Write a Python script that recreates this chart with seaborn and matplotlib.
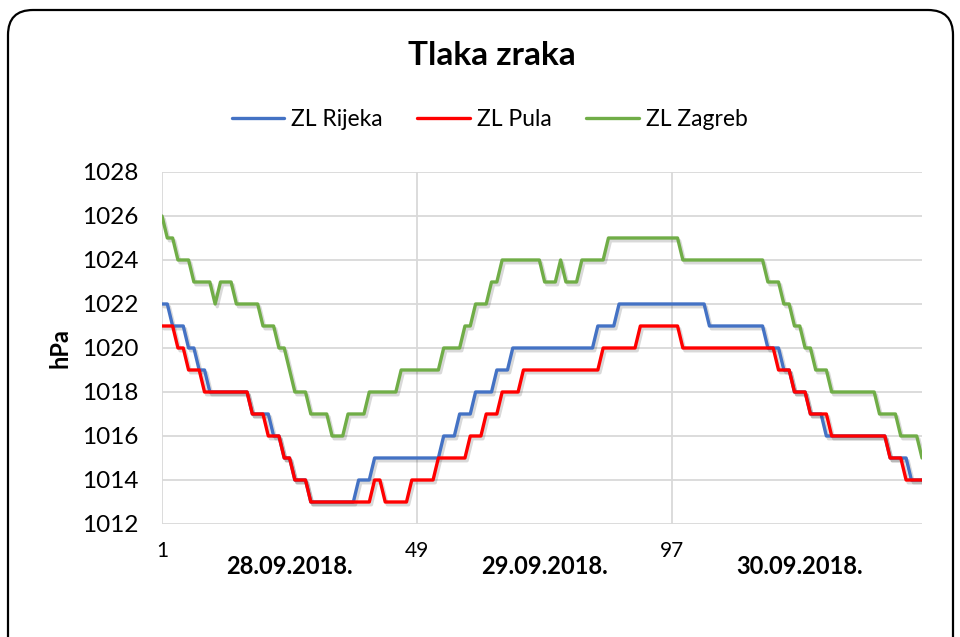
import matplotlib
matplotlib.use("Agg")
import matplotlib.pyplot as plt
import matplotlib.patheffects as pe
from matplotlib.patches import FancyBboxPatch
import pandas as pd
import seaborn as sns

# half-hourly readings, 48 per day, 28.-30.09.2018.
rijeka = [
    1022, 1022, 1021, 1021, 1021, 1020, 1020, 1019, 1019, 1018,
    1018, 1018, 1018, 1018, 1018, 1018, 1018, 1017, 1017, 1017,
    1017, 1016, 1016, 1015, 1015, 1014, 1014, 1014, 1013, 1013,
    1013, 1013, 1013, 1013, 1013, 1013, 1013, 1014, 1014, 1014,
    1015, 1015, 1015, 1015, 1015, 1015, 1015, 1015,
    1015, 1015, 1015, 1015, 1015, 1016, 1016, 1016, 1017, 1017,
    1017, 1018, 1018, 1018, 1018, 1019, 1019, 1019, 1020, 1020,
    1020, 1020, 1020, 1020, 1020, 1020, 1020, 1020, 1020, 1020,
    1020, 1020, 1020, 1020, 1021, 1021, 1021, 1021, 1022, 1022,
    1022, 1022, 1022, 1022, 1022, 1022, 1022, 1022,
    1022, 1022, 1022, 1022, 1022, 1022, 1022, 1021, 1021, 1021,
    1021, 1021, 1021, 1021, 1021, 1021, 1021, 1021, 1020, 1020,
    1020, 1019, 1019, 1018, 1018, 1018, 1017, 1017, 1017, 1016,
    1016, 1016, 1016, 1016, 1016, 1016, 1016, 1016, 1016, 1016,
    1016, 1015, 1015, 1015, 1015, 1014, 1014, 1014,
]
pula = [
    1021, 1021, 1021, 1020, 1020, 1019, 1019, 1019, 1018, 1018,
    1018, 1018, 1018, 1018, 1018, 1018, 1018, 1017, 1017, 1017,
    1016, 1016, 1016, 1015, 1015, 1014, 1014, 1014, 1013, 1013,
    1013, 1013, 1013, 1013, 1013, 1013, 1013, 1013, 1013, 1013,
    1014, 1014, 1013, 1013, 1013, 1013, 1013, 1014,
    1014, 1014, 1014, 1014, 1015, 1015, 1015, 1015, 1015, 1015,
    1016, 1016, 1016, 1017, 1017, 1017, 1018, 1018, 1018, 1018,
    1019, 1019, 1019, 1019, 1019, 1019, 1019, 1019, 1019, 1019,
    1019, 1019, 1019, 1019, 1019, 1020, 1020, 1020, 1020, 1020,
    1020, 1020, 1021, 1021, 1021, 1021, 1021, 1021,
    1021, 1021, 1020, 1020, 1020, 1020, 1020, 1020, 1020, 1020,
    1020, 1020, 1020, 1020, 1020, 1020, 1020, 1020, 1020, 1020,
    1019, 1019, 1019, 1018, 1018, 1018, 1017, 1017, 1017, 1017,
    1016, 1016, 1016, 1016, 1016, 1016, 1016, 1016, 1016, 1016,
    1016, 1015, 1015, 1015, 1014, 1014, 1014, 1014,
]
zagreb = [
    1026, 1025, 1025, 1024, 1024, 1024, 1023, 1023, 1023, 1023,
    1022, 1023, 1023, 1023, 1022, 1022, 1022, 1022, 1022, 1021,
    1021, 1021, 1020, 1020, 1019, 1018, 1018, 1018, 1017, 1017,
    1017, 1017, 1016, 1016, 1016, 1017, 1017, 1017, 1017, 1018,
    1018, 1018, 1018, 1018, 1018, 1019, 1019, 1019,
    1019, 1019, 1019, 1019, 1019, 1020, 1020, 1020, 1020, 1021,
    1021, 1022, 1022, 1022, 1023, 1023, 1024, 1024, 1024, 1024,
    1024, 1024, 1024, 1024, 1023, 1023, 1023, 1024, 1023, 1023,
    1023, 1024, 1024, 1024, 1024, 1024, 1025, 1025, 1025, 1025,
    1025, 1025, 1025, 1025, 1025, 1025, 1025, 1025,
    1025, 1025, 1024, 1024, 1024, 1024, 1024, 1024, 1024, 1024,
    1024, 1024, 1024, 1024, 1024, 1024, 1024, 1024, 1023, 1023,
    1023, 1022, 1022, 1021, 1021, 1020, 1020, 1019, 1019, 1019,
    1018, 1018, 1018, 1018, 1018, 1018, 1018, 1018, 1018, 1017,
    1017, 1017, 1017, 1016, 1016, 1016, 1016, 1015,
]
stations = ["ZL Rijeka", "ZL Pula", "ZL Zagreb"]
colors = ["#4472C4", "#FF0000", "#70AD47"]
days = ["28.09.2018.", "29.09.2018.", "30.09.2018."]
day_mid = [25, 73, 121]
xticks = [1, 49, 97]
yticks = list(range(1012, 1029, 2))

rows = []
for name, vals in zip(stations, [rijeka, pula, zagreb]):
    for i, v in enumerate(vals):
        rows.append({"mjerenje": i + 1, "hPa": v, "postaja": name})
df = pd.DataFrame(rows)

sns.set_style("white")
plt.rcParams["font.family"] = ["Lato", "DejaVu Sans"]
plt.rcParams["text.color"] = "black"
plt.rcParams["xtick.color"] = "black"
plt.rcParams["ytick.color"] = "black"

fig = plt.figure(figsize=(9.6, 6.37), dpi=100)
ax = fig.add_axes([0.16875, 0.1774, 0.7917, 0.5526])

sns.lineplot(data=df, x="mjerenje", y="hPa", hue="postaja", hue_order=stations,
             palette=dict(zip(stations, colors)), linewidth=2.4, ax=ax,
             legend=False, zorder=3)
for line in ax.get_lines():
    line.set_path_effects([pe.SimpleLineShadow(offset=(1.5, -2), alpha=0.15),
                           pe.Normal()])

ax.set_xlim(1, 144)
ax.set_ylim(1012, 1028)
ax.set_xticks(xticks)
ax.set_yticks(yticks)
ax.tick_params(axis="y", length=0, pad=17, labelsize=17.5)
ax.tick_params(axis="x", length=0, pad=12, labelsize=15)
ax.grid(True, color="#d9d9d9", linewidth=1.3)
ax.set_axisbelow(True)
for s in ax.spines.values():
    s.set_visible(False)
ax.set_xlabel("")
ax.set_ylabel("")

for d, m in zip(days, day_mid):
    ax.text(m, -0.12, d, transform=ax.get_xaxis_transform(), ha="center",
            va="center", fontsize=17, fontweight="bold")

fig.text(0.0625, 0.4535, "hPa", rotation=90, ha="center", va="center",
         fontsize=17, fontweight="bold")
fig.text(0.512, 0.913, "Tlaka zraka", ha="center", va="center",
         fontsize=24, fontweight="bold")

handles = [plt.Line2D([], [], color=c, linewidth=2.4) for c in colors]
fig.legend(handles, stations, loc="center", bbox_to_anchor=(0.51, 0.812),
           ncol=3, frameon=False, fontsize=16.5, handlelength=2.3,
           handletextpad=0.3, columnspacing=1.5)

border = FancyBboxPatch((0.08, -0.5), 9.45, 6.77,
                        boxstyle="round,pad=0,rounding_size=0.25",
                        transform=fig.dpi_scale_trans, fill=False,
                        edgecolor="black", linewidth=1.6)
fig.patches.append(border)

fig.savefig("out.png", dpi=100)
